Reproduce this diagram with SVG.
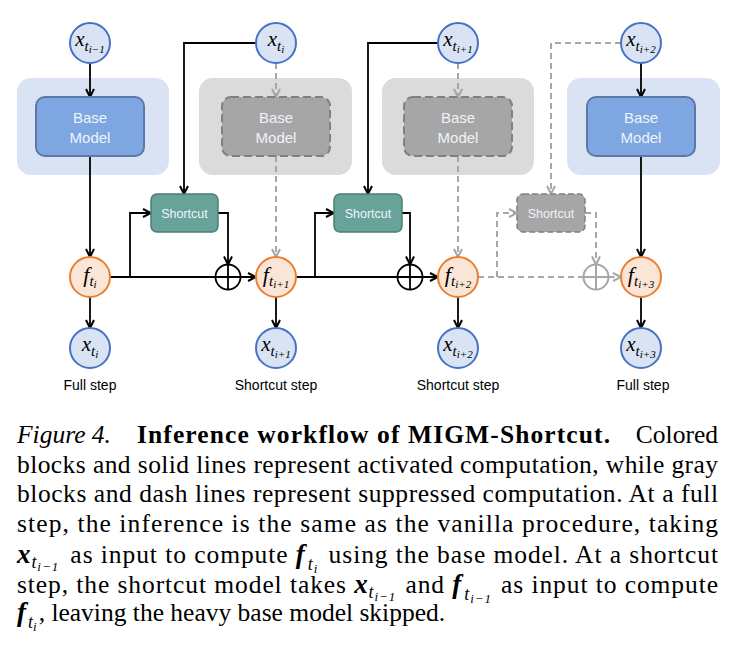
<svg xmlns="http://www.w3.org/2000/svg" width="738" height="658" viewBox="0 0 738 658">
<defs>
<style>
.panelB{fill:#dae3f3}
.panelG{fill:#dbdbdb}
.boxB{fill:#7ea6e0;stroke:#5a79a6;stroke-width:2}
.boxG{fill:#a6a6a6;stroke:#808080;stroke-width:2;stroke-dasharray:8 4}
.sc{fill:#67a399;stroke:#4c7d74;stroke-width:1.5}
.scG{fill:#a6a6a6;stroke:#808080;stroke-width:1.5;stroke-dasharray:6 3}
.xc{fill:#dae3f3;stroke:#4472c4;stroke-width:2}
.fc{fill:#fbe5d6;stroke:#ed7d31;stroke-width:2}
.lbl{font-family:"Liberation Sans",Arial,sans-serif;fill:#eef3fb;text-anchor:middle}
.step{font-family:"Liberation Sans",Arial,sans-serif;font-size:14px;fill:#000;text-anchor:middle}
.m{font-family:"Liberation Serif","Times New Roman",serif;font-style:italic;fill:#000;text-anchor:middle}
.ln{stroke:#000;stroke-width:1.8;fill:none}
.lnG{stroke:#a6a6a6;stroke-width:2;fill:none;stroke-dasharray:6 4}
.plus{fill:none;stroke:#000;stroke-width:1.8}
.plusG{fill:none;stroke:#a6a6a6;stroke-width:2}
.cap{font-family:"Liberation Serif","Times New Roman",serif;font-size:25.5px;fill:#000}
.mb{font-weight:bold;font-style:italic;font-size:27px}
.it{font-style:italic}
</style>
<marker id="ab" viewBox="0 0 12 10" refX="10" refY="5" markerWidth="12" markerHeight="10" markerUnits="userSpaceOnUse" orient="auto">
<path d="M2,1 L10,5 L2,9" fill="none" stroke="#000" stroke-width="2"/>
</marker>
<marker id="ag" viewBox="0 0 12 10" refX="10" refY="5" markerWidth="12" markerHeight="10" markerUnits="userSpaceOnUse" orient="auto">
<path d="M2,1 L10,5 L2,9" fill="none" stroke="#a6a6a6" stroke-width="2"/>
</marker>
</defs>
<rect width="738" height="658" fill="#fff"/>

<g id="panels">
<rect class="panelB" x="17" y="78" width="152" height="97" rx="14"/>
<rect class="panelG" x="199" y="78" width="153" height="97" rx="14"/>
<rect class="panelG" x="382" y="78" width="152" height="97" rx="14"/>
<rect class="panelB" x="567" y="78" width="153" height="97" rx="14"/>
</g>

<g id="connectors">
<path class="ln" d="M90,63 V97" marker-end="url(#ab)"/>
<path class="ln" d="M90,156 V257" marker-end="url(#ab)"/>
<path class="ln" d="M90,297 V328" marker-end="url(#ab)"/>
<path class="ln" d="M110,277 H256" marker-end="url(#ab)"/>
<path class="ln" d="M130,277 V213 H151" marker-end="url(#ab)"/>
<path class="ln" d="M256,43 H184 V194" marker-end="url(#ab)"/>
<path class="ln" d="M218,213 H228 V264.5" marker-end="url(#ab)"/>
<path class="ln" d="M276,297 V328" marker-end="url(#ab)"/>
<path class="ln" d="M296,277 H438" marker-end="url(#ab)"/>
<path class="ln" d="M315,277 V213 H334" marker-end="url(#ab)"/>
<path class="ln" d="M438,43 H368 V194" marker-end="url(#ab)"/>
<path class="ln" d="M402,213 H410 V264.5" marker-end="url(#ab)"/>
<path class="ln" d="M458,297 V328" marker-end="url(#ab)"/>
<path class="ln" d="M641,63 V97" marker-end="url(#ab)"/>
<path class="ln" d="M641,156 V257" marker-end="url(#ab)"/>
<path class="ln" d="M641,297 V328" marker-end="url(#ab)"/>
<path class="lnG" d="M276,63 V97" marker-end="url(#ag)"/>
<path class="lnG" d="M276,156 V257" marker-end="url(#ag)"/>
<path class="lnG" d="M458,63 V97" marker-end="url(#ag)"/>
<path class="lnG" d="M458,156 V257" marker-end="url(#ag)"/>
<path class="lnG" d="M478,277 H583.5"/>
<path class="lnG" d="M608.5,277 H621" marker-end="url(#ag)"/>
<path class="lnG" d="M497,277 V213 H517" marker-end="url(#ag)"/>
<path class="lnG" d="M621,43 H551 V194" marker-end="url(#ag)"/>
<path class="lnG" d="M585,213 H596 V264.5" marker-end="url(#ag)"/>
</g>

<g id="base1"><rect class="boxB" x="36" y="97" width="108" height="59" rx="9"/><text class="lbl" font-size="15" x="90" y="123">Base</text><text class="lbl" font-size="15" x="90" y="143">Model</text></g>
<g id="base2"><rect class="boxG" x="222" y="97" width="108" height="59" rx="9"/><text class="lbl" font-size="15" x="276" y="123">Base</text><text class="lbl" font-size="15" x="276" y="143">Model</text></g>
<g id="base3"><rect class="boxG" x="404" y="97" width="108" height="59" rx="9"/><text class="lbl" font-size="15" x="458" y="123">Base</text><text class="lbl" font-size="15" x="458" y="143">Model</text></g>
<g id="base4"><rect class="boxB" x="587" y="97" width="108" height="59" rx="9"/><text class="lbl" font-size="15" x="641" y="123">Base</text><text class="lbl" font-size="15" x="641" y="143">Model</text></g>

<g id="shortcut1"><rect class="sc" x="151" y="194" width="67" height="38" rx="6"/><text class="lbl" font-size="12.5" x="184.5" y="217.5">Shortcut</text></g>
<g id="shortcut2"><rect class="sc" x="334" y="194" width="68" height="38" rx="6"/><text class="lbl" font-size="12.5" x="368" y="217.5">Shortcut</text></g>
<g id="shortcut3"><rect class="scG" x="517" y="194" width="68" height="38" rx="6"/><text class="lbl" font-size="12.5" x="551" y="217.5">Shortcut</text></g>

<g id="plus1"><circle class="plus" cx="228" cy="277" r="12.5"/><path class="plus" d="M215.5,277 H240.5 M228,264.5 V289.5"/></g>
<g id="plus2"><circle class="plus" cx="410" cy="277" r="12.5"/><path class="plus" d="M397.5,277 H422.5 M410,264.5 V289.5"/></g>
<g id="plus3"><circle class="plusG" cx="596" cy="277" r="12.5"/><path class="plusG" d="M583.5,277 H608.5 M596,264.5 V289.5"/></g>

<g id="x_top0"><circle class="xc" cx="90" cy="43" r="20"/><text class="m" x="90" y="46"><tspan font-size="21">x</tspan><tspan font-size="15" dy="5">t</tspan><tspan font-size="11" dy="2">i−1</tspan></text></g>
<g id="x_top1"><circle class="xc" cx="276" cy="43" r="20"/><text class="m" x="276" y="46"><tspan font-size="21">x</tspan><tspan font-size="15" dy="5">t</tspan><tspan font-size="11" dy="2">i</tspan></text></g>
<g id="x_top2"><circle class="xc" cx="458" cy="43" r="20"/><text class="m" x="458" y="46"><tspan font-size="21">x</tspan><tspan font-size="15" dy="5">t</tspan><tspan font-size="11" dy="2">i+1</tspan></text></g>
<g id="x_top3"><circle class="xc" cx="641" cy="43" r="20"/><text class="m" x="641" y="46"><tspan font-size="21">x</tspan><tspan font-size="15" dy="5">t</tspan><tspan font-size="11" dy="2">i+2</tspan></text></g>

<g id="f0"><circle class="fc" cx="90" cy="277" r="20"/><text class="m" x="90" y="282"><tspan font-size="22">f</tspan><tspan font-size="15" dy="4">t</tspan><tspan font-size="11" dy="2">i</tspan></text></g>
<g id="f1"><circle class="fc" cx="276" cy="277" r="20"/><text class="m" x="276" y="282"><tspan font-size="22">f</tspan><tspan font-size="15" dy="4">t</tspan><tspan font-size="11" dy="2">i+1</tspan></text></g>
<g id="f2"><circle class="fc" cx="458" cy="277" r="20"/><text class="m" x="458" y="282"><tspan font-size="22">f</tspan><tspan font-size="15" dy="4">t</tspan><tspan font-size="11" dy="2">i+2</tspan></text></g>
<g id="f3"><circle class="fc" cx="641" cy="277" r="20"/><text class="m" x="641" y="282"><tspan font-size="22">f</tspan><tspan font-size="15" dy="4">t</tspan><tspan font-size="11" dy="2">i+3</tspan></text></g>

<g id="x_bot0"><circle class="xc" cx="90" cy="348" r="20"/><text class="m" x="90" y="351"><tspan font-size="21">x</tspan><tspan font-size="15" dy="5">t</tspan><tspan font-size="11" dy="2">i</tspan></text></g>
<g id="x_bot1"><circle class="xc" cx="276" cy="348" r="20"/><text class="m" x="276" y="351"><tspan font-size="21">x</tspan><tspan font-size="15" dy="5">t</tspan><tspan font-size="11" dy="2">i+1</tspan></text></g>
<g id="x_bot2"><circle class="xc" cx="458" cy="348" r="20"/><text class="m" x="458" y="351"><tspan font-size="21">x</tspan><tspan font-size="15" dy="5">t</tspan><tspan font-size="11" dy="2">i+2</tspan></text></g>
<g id="x_bot3"><circle class="xc" cx="641" cy="348" r="20"/><text class="m" x="641" y="351"><tspan font-size="21">x</tspan><tspan font-size="15" dy="5">t</tspan><tspan font-size="11" dy="2">i+3</tspan></text></g>

<g id="step_labels">
<text class="step" x="90" y="390">Full step</text>
<text class="step" x="276" y="390">Shortcut step</text>
<text class="step" x="458" y="390">Shortcut step</text>
<text class="step" x="643" y="390">Full step</text>
</g>

<g id="caption" class="cap">
<text x="17" y="443" class="it">Figure 4.</text>
<text x="137" y="443" font-weight="bold" textLength="473" lengthAdjust="spacing">Inference workflow of MIGM-Shortcut.</text>
<text x="718" y="443" text-anchor="end">Colored</text>
<text x="17" y="472.5" textLength="701" lengthAdjust="spacing">blocks and solid lines represent activated computation, while gray</text>
<text x="17" y="502" textLength="701" lengthAdjust="spacing">blocks and dash lines represent suppressed computation. At a full</text>
<text x="17" y="532" textLength="701" lengthAdjust="spacing">step, the inference is the same as the vanilla procedure, taking</text>
<text x="17" y="563" textLength="701" lengthAdjust="spacing"><tspan class="mb">x</tspan><tspan class="it" font-size="18" dy="5">t</tspan><tspan class="it" font-size="13" dy="3">i−1</tspan><tspan dy="-8" dx="4"> as input to compute </tspan><tspan class="mb">f</tspan><tspan class="it" font-size="18" dy="7" dx="2">t</tspan><tspan class="it" font-size="13" dy="3">i</tspan><tspan dy="-10" dx="3"> using the base model. At a shortcut</tspan></text>
<text x="17" y="592.5" textLength="701" lengthAdjust="spacing">step, the shortcut model takes <tspan class="mb">x</tspan><tspan class="it" font-size="18" dy="5">t</tspan><tspan class="it" font-size="13" dy="3">i−1</tspan><tspan dy="-8" dx="2"> and </tspan><tspan class="mb">f</tspan><tspan class="it" font-size="18" dy="7" dx="2">t</tspan><tspan class="it" font-size="13" dy="3">i−1</tspan><tspan dy="-10" dx="2"> as input to compute</tspan></text>
<text x="17" y="621"><tspan class="mb">f</tspan><tspan class="it" font-size="18" dy="7" dx="2">t</tspan><tspan class="it" font-size="13" dy="3">i</tspan><tspan dy="-10" dx="2">, leaving the heavy base model skipped.</tspan></text>
</g>
</svg>
